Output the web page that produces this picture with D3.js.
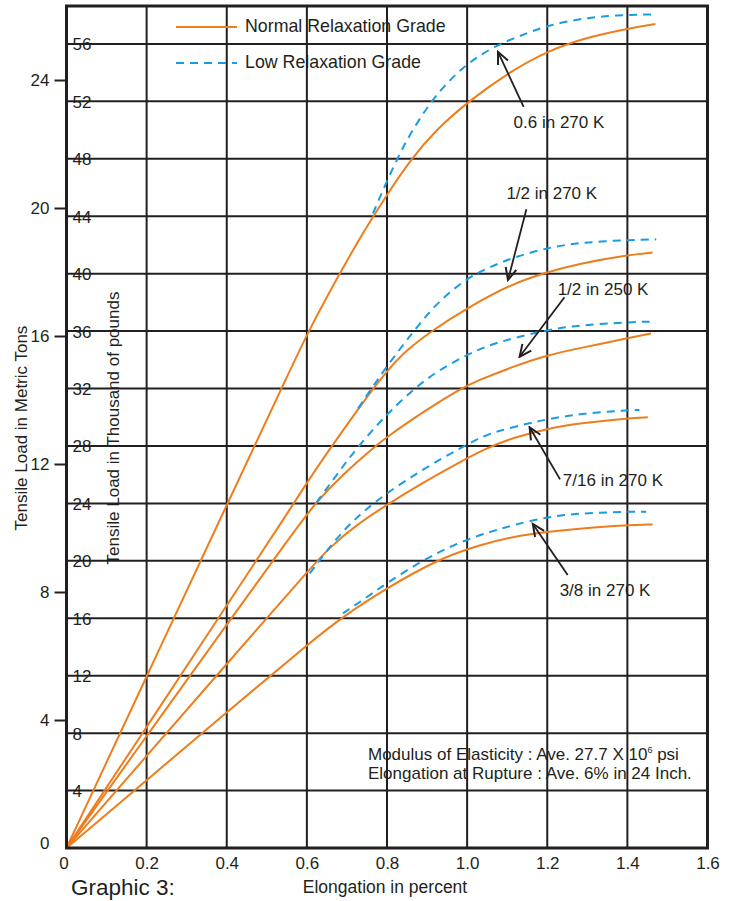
<!DOCTYPE html>
<html>
<head>
<meta charset="utf-8">
<script src="https://cdn.jsdelivr.net/npm/d3@7"></script>
<style>
    body { margin: 0; background: #fff; }
    svg { display: block; }
    text { font-family: 'Liberation Sans', Arial, sans-serif; fill: #231f20; }
</style>
</head>
<body>
<div id="chart"></div>
<script>
// elongation in percent, load in metric tons
var xTicks = [0, 0.2, 0.4, 0.6, 0.8, 1.0, 1.2, 1.4, 1.6];
var xTickLabels = ['0', '0.2', '0.4', '0.6', '0.8', '1.0', '1.2', '1.4', '1.6'];
var tonTicks = [0, 4, 8, 12, 16, 20, 24];
var kipTicks = [4, 8, 12, 16, 20, 24, 28, 32, 36, 40, 44, 48, 52, 56];

var strands = ['0.6 in 270 K', '1/2 in 270 K', '1/2 in 250 K', '7/16 in 270 K', '3/8 in 270 K'];

var normal06 = [[0, 0], [0.2, 5.36], [0.4, 10.72], [0.557, 14.9], [0.603, 16.13], [0.682, 17.96],
    [0.744, 19.31], [0.8, 20.42], [0.861, 21.55], [0.923, 22.45], [1.002, 23.32], [1.106, 24.26],
    [1.206, 24.94], [1.305, 25.35], [1.405, 25.62], [1.47, 25.75]];
var low06 = [[0.765, 19.83], [0.8, 20.85], [0.83, 21.65], [0.857, 22.3], [0.906, 23.27], [0.956, 24.0],
    [1.006, 24.57], [1.073, 25.09], [1.148, 25.46], [1.206, 25.72], [1.289, 25.93], [1.372, 26.03],
    [1.473, 26.05]];

var normal12a = [[0, 0], [0.2, 3.78], [0.4, 7.58], [0.557, 10.56], [0.6, 11.42], [0.661, 12.54],
    [0.744, 14.0], [0.798, 14.88], [0.848, 15.56], [0.915, 16.19], [0.998, 16.86], [1.114, 17.65],
    [1.201, 18.0], [1.281, 18.27], [1.401, 18.53], [1.463, 18.61]];
var low12a = [[0.728, 13.74], [0.798, 15.04], [0.869, 16.19], [0.923, 17.02], [0.998, 17.8],
    [1.056, 18.15], [1.114, 18.45], [1.201, 18.76], [1.281, 18.92], [1.401, 19.0], [1.472, 19.02]];

var normal12b = [[0, 0], [0.2, 3.5], [0.4, 6.98], [0.557, 9.7], [0.62, 10.77], [0.69, 11.68],
    [0.769, 12.54], [0.8, 12.85], [0.898, 13.69], [0.981, 14.34], [1.031, 14.63], [1.114, 15.04],
    [1.201, 15.41], [1.281, 15.62], [1.401, 15.93], [1.459, 16.08]];
var low12b = [[0.624, 10.8], [0.665, 11.5], [0.699, 12.08], [0.732, 12.6], [0.774, 13.2], [0.807, 13.64],
    [0.869, 14.37], [0.923, 14.88], [0.998, 15.41], [1.056, 15.72], [1.114, 15.93], [1.201, 16.19],
    [1.281, 16.34], [1.401, 16.43], [1.459, 16.45]];

var normal716 = [[0, 0], [0.2, 2.88], [0.4, 5.75], [0.6, 8.62], [0.657, 9.4], [0.724, 10.1],
    [0.8, 10.73], [0.89, 11.42], [0.973, 12.0], [1.045, 12.48], [1.114, 12.82], [1.201, 13.11],
    [1.281, 13.27], [1.401, 13.43], [1.451, 13.46]];
var low716 = [[0.607, 8.58], [0.682, 9.83], [0.761, 10.77], [0.89, 11.85], [0.99, 12.54],
    [1.031, 12.82], [1.073, 13.02], [1.156, 13.28], [1.201, 13.4], [1.281, 13.57], [1.401, 13.68],
    [1.43, 13.69]];

var normal38 = [[0, 0], [0.2, 2.12], [0.4, 4.24], [0.615, 6.5], [0.69, 7.23], [0.798, 8.11],
    [0.923, 9.0], [1.031, 9.47], [1.114, 9.73], [1.201, 9.88], [1.281, 9.98], [1.401, 10.09],
    [1.463, 10.11]];
var low38 = [[0.69, 7.33], [0.74, 7.75], [0.798, 8.27], [0.89, 9.0], [0.973, 9.52], [1.056, 9.88],
    [1.114, 10.09], [1.201, 10.35], [1.281, 10.46], [1.401, 10.51], [1.447, 10.51]];

(function () {
    'use strict';

    var width = 735;
    var height = 901;
    var ink = '#231f20';
    var orange = '#ee7d1c';
    var blue = '#1b9ce0';

    var x = d3.scaleLinear().domain([0, 1.6]).range([66.5, 707.5]);
    var yTon = d3.scaleLinear().domain([0, 26.3125]).range([848, 6]);
    var yKip = d3.scaleLinear().domain([0, 58.64]).range([848, 6]);

    var normals = [normal06, normal12a, normal12b, normal716, normal38];
    var lows = [low06, low12a, low12b, low716, low38];

    // label position, arrow tail, arrow tip (percent, tons)
    var notes = [
        { text: strands[0], at: [1.116, 22.5], from: [1.141, 23.16], to: [1.077, 24.88] },
        { text: strands[1], at: [1.098, 20.28], from: [1.148, 19.96], to: [1.102, 17.75] },
        { text: strands[2], at: [1.226, 17.28], from: [1.243, 17.21], to: [1.131, 15.35] },
        { text: strands[3], at: [1.239, 11.31], from: [1.232, 11.52], to: [1.156, 13.15] },
        { text: strands[4], at: [1.231, 7.875], from: [1.251, 8.53], to: [1.164, 10.125] }
    ];

    var svg = d3.select('#chart').append('svg')
        .attr('width', width)
        .attr('height', height);

    svg.append('defs').append('marker')
        .attr('id', 'head')
        .attr('viewBox', '-14 -8 16 16')
        .attr('markerWidth', 16)
        .attr('markerHeight', 16)
        .attr('markerUnits', 'userSpaceOnUse')
        .attr('orient', 'auto')
        .append('path')
        .attr('d', 'M-12,-5.5L0,0L-12,5.5')
        .attr('fill', 'none')
        .attr('stroke', ink)
        .attr('stroke-width', 2);

    var grid = svg.append('g');

    grid.selectAll('line.v').data(xTicks.slice(1, -1))
        .enter().append('line')
        .attr('class', 'v')
        .attr('x1', x).attr('x2', x)
        .attr('y1', yTon.range()[1]).attr('y2', yTon.range()[0])
        .attr('stroke', ink).attr('stroke-width', 2);

    grid.selectAll('line.h').data(kipTicks)
        .enter().append('line')
        .attr('class', 'h')
        .attr('x1', x.range()[0]).attr('x2', x.range()[1])
        .attr('y1', yKip).attr('y2', yKip)
        .attr('stroke', ink).attr('stroke-width', 2);

    var line = d3.line()
        .x(function (d) { return x(d[0]); })
        .y(function (d) { return yTon(d[1]); })
        .curve(d3.curveBasis);

    svg.append('g').selectAll('path').data(normals)
        .enter().append('path')
        .attr('d', line)
        .attr('fill', 'none')
        .attr('stroke', orange)
        .attr('stroke-width', 2);

    svg.append('g').selectAll('path').data(lows)
        .enter().append('path')
        .attr('d', line)
        .attr('fill', 'none')
        .attr('stroke', blue)
        .attr('stroke-width', 2)
        .attr('stroke-dasharray', '8,6');

    svg.append('rect')
        .attr('x', x.range()[0])
        .attr('y', yTon.range()[1])
        .attr('width', x.range()[1] - x.range()[0])
        .attr('height', yTon.range()[0] - yTon.range()[1])
        .attr('fill', 'none')
        .attr('stroke', ink)
        .attr('stroke-width', 3);

    // metric tons, outside left
    var left = svg.append('g')
        .attr('transform', 'translate(' + x.range()[0] + ',0)')
        .call(d3.axisLeft(yTon).tickValues(tonTicks).tickSize(12).tickPadding(5));
    left.select('.domain').remove();
    left.selectAll('line').attr('stroke', ink).attr('stroke-width', 2)
        .filter(function (d) { return d === 0; }).remove();
    left.selectAll('text').style('font-size', '17px').attr('fill', ink)
        .filter(function (d) { return d === 0; }).attr('dy', '0.02em');
    left.attr('font-family', null);

    // thousand of pounds, inside the frame
    svg.append('g').selectAll('text').data(kipTicks)
        .enter().append('text')
        .attr('x', x.range()[0] + 6)
        .attr('y', function (d) { return yKip(d) + 6.5; })
        .style('font-size', '17px')
        .text(function (d) { return d; });

    var bottom = svg.append('g')
        .attr('transform', 'translate(0,' + yTon.range()[0] + ')')
        .call(d3.axisBottom(x).tickValues(xTicks).tickSize(0).tickPadding(9)
            .tickFormat(function (d, i) { return xTickLabels[i]; }));
    bottom.select('.domain').remove();
    bottom.selectAll('text').style('font-size', '17px').attr('fill', ink);
    bottom.selectAll('text').filter(function (d) { return d === 0; }).attr('dx', '-3');
    bottom.attr('font-family', null);

    svg.append('text')
        .attr('transform', 'translate(26.5,428) rotate(-90)')
        .attr('text-anchor', 'middle')
        .style('font-size', '17px')
        .text('Tensile Load in Metric Tons');

    svg.append('text')
        .attr('transform', 'translate(118.5,428) rotate(-90)')
        .attr('text-anchor', 'middle')
        .style('font-size', '17px')
        .text('Tensile Load in Thousand of pounds');

    svg.append('text')
        .attr('x', 385).attr('y', 893)
        .attr('text-anchor', 'middle')
        .style('font-size', '17.5px')
        .text('Elongation in percent');

    svg.append('text')
        .attr('x', 71).attr('y', 895)
        .style('font-size', '22.5px')
        .text('Graphic 3:');

    // legend
    var legend = svg.append('g');
    legend.append('line')
        .attr('x1', 176).attr('x2', 237).attr('y1', 27).attr('y2', 27)
        .attr('stroke', orange).attr('stroke-width', 2);
    legend.append('line')
        .attr('x1', 176).attr('x2', 237).attr('y1', 63).attr('y2', 63)
        .attr('stroke', blue).attr('stroke-width', 2).attr('stroke-dasharray', '8,6');
    legend.append('text').attr('x', 245).attr('y', 32).style('font-size', '17.8px')
        .text('Normal Relaxation Grade');
    legend.append('text').attr('x', 245).attr('y', 68).style('font-size', '17.8px')
        .text('Low Relaxation Grade');

    // strand callouts
    var callouts = svg.append('g').selectAll('g').data(notes).enter().append('g');
    callouts.append('line')
        .attr('x1', function (d) { return x(d.from[0]); })
        .attr('y1', function (d) { return yTon(d.from[1]); })
        .attr('x2', function (d) { return x(d.to[0]); })
        .attr('y2', function (d) { return yTon(d.to[1]); })
        .attr('stroke', ink)
        .attr('stroke-width', 1.8)
        .attr('marker-end', 'url(#head)');
    callouts.append('text')
        .attr('x', function (d) { return x(d.at[0]); })
        .attr('y', function (d) { return yTon(d.at[1]); })
        .style('font-size', '17px')
        .text(function (d) { return d.text; });

    var modulus = svg.append('text')
        .attr('x', 368).attr('y', 760)
        .style('font-size', '17px');
    modulus.append('tspan').text('Modulus of Elasticity : Ave. 27.7 X 10');
    modulus.append('tspan').attr('dy', -7).style('font-size', '9px').text('6');
    modulus.append('tspan').attr('dy', 7).text(' psi');

    svg.append('text')
        .attr('x', 368).attr('y', 779)
        .style('font-size', '17px')
        .text('Elongation at Rupture : Ave. 6% in 24 Inch.');
})();
</script>
</body>
</html>
